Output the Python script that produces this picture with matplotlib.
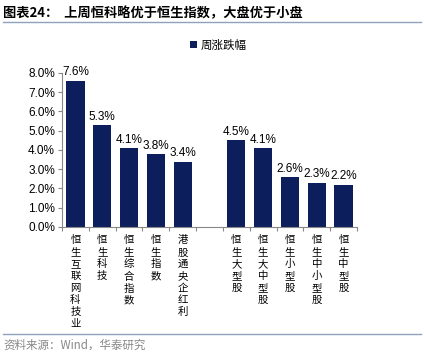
import numpy as np
import matplotlib.pyplot as plt
from matplotlib.lines import Line2D
from matplotlib.transforms import blended_transform_factory

plt.rcParams['font.family'] = ['Liberation Sans', 'Noto Sans CJK SC', 'DejaVu Sans']

names = ['恒生互联网科技业', '恒生科技', '恒生综合指数', '恒生指数', '港股通央企红利',
         '',
         '恒生大型股', '恒生大中型股', '恒生小型股', '恒生中小型股', '恒生中型股']
values = [7.6, 5.3, 4.1, 3.8, 3.4, None, 4.5, 4.1, 2.6, 2.3, 2.2]
yticks = [0, 1, 2, 3, 4, 5, 6, 7, 8]

navy = '#0c1f5c'

fig = plt.figure(figsize=(4.24, 3.56), dpi=100)
ax = fig.add_axes([62 / 424, 1 - 227 / 356, 295 / 424, 154 / 356])

xs = [i for i, v in enumerate(values) if v is not None]
vs = [v / 100 for v in values if v is not None]
bars = ax.bar(xs, vs, width=0.68, color=navy, label='周涨跌幅', zorder=2)
for x, v in zip(xs, vs):
    ax.text(x, v + 0.0012, f'{v * 100:.1f}%', ha='center', va='bottom', fontsize=8.5)

ax.set_xlim(-0.5, len(names) - 0.5)
ax.set_ylim(0, 0.08)
ax.set_yticks([t / 100 for t in yticks])
ax.set_yticklabels([f'{t:.1f}%' for t in yticks], fontsize=8.5)
ax.set_xticks(np.arange(-0.5, len(names), 1.0))
ax.set_xticklabels([])
ax.tick_params(axis='x', length=3, color='#888888')
ax.tick_params(axis='y', length=3, color='#888888', pad=2)
for s in ['top', 'right']:
    ax.spines[s].set_visible(False)
for s in ['left', 'bottom']:
    ax.spines[s].set_color('#888888')
    ax.spines[s].set_linewidth(0.8)

trans = blended_transform_factory(ax.transData, ax.transAxes)
for i, n in enumerate(names):
    if n:
        ax.text(i, -0.055, '\n'.join(n), ha='center', va='top', fontsize=7.5,
                linespacing=1.24, transform=trans, family=['Noto Sans CJK SC'])

ax.legend(loc='center', bbox_to_anchor=(0.515, 0.873), bbox_transform=fig.transFigure,
          frameon=False, handlelength=0.6, handleheight=0.6,
          handletextpad=0.3, prop={'family': 'Noto Sans CJK SC', 'size': 8.3})

fig.text(3 / 424, 1 - 13 / 356, '图表24：  上周恒科略优于恒生指数，大盘优于小盘',
         fontsize=9.5, fontweight='bold', va='center', ha='left',
         family=['Noto Sans CJK SC'])
fig.add_artist(Line2D([3 / 424, 421 / 424], [1 - 21.5 / 356] * 2, color='#8da2bd', lw=1))
fig.add_artist(Line2D([3 / 424, 421 / 424], [1 - 334 / 356] * 2, color='#8da2bd', lw=1))
fig.text(3 / 424, 1 - 345 / 356, '资料来源：Wind，华泰研究', fontsize=8.3, color='#888888',
         va='center', ha='left', family=['Noto Sans CJK SC'])

fig.savefig('out.png', dpi=100)
